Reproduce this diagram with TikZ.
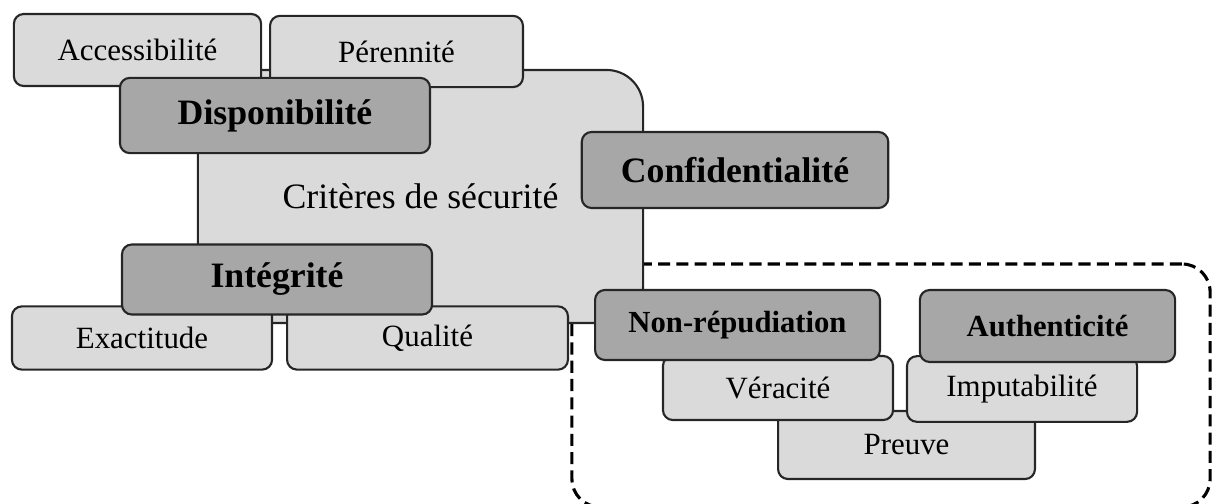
\documentclass[tikz,border=0pt]{standalone}
\usepackage{fontspec}
\setmainfont{Liberation Serif}
\usepackage{tikz}
\usetikzlibrary{shapes,positioning,calc}
\definecolor{clair}{HTML}{DADADA}
\definecolor{fonce}{HTML}{A7A7A7}

\begin{document}
\begin{tikzpicture}[x=0.0125cm, y=-0.0125cm,
    boite/.style={draw=black!85, line width=0.75pt, rounded corners=3.5pt, inner sep=0pt, align=center},
    secondaire/.style={boite, fill=clair, font=\fontsize{11}{13}\selectfont},
    principal/.style={boite, fill=fonce, font=\fontsize{12.7}{15}\selectfont\bfseries},
    petit/.style={principal, font=\fontsize{10.9}{13}\selectfont\bfseries}]
        \useasboundingbox (0,0) rectangle (1218,504);

        % Dashed group and central box
        \node[draw, dashed, line width=1.1pt, dash pattern=on 4.3pt off 2.2pt, rounded corners=10pt, minimum width=7.975cm, minimum height=3.0375cm] (groupe) at (891,385.5) {};
        \node[boite, fill=clair, rounded corners=13pt, minimum width=5.5625cm, minimum height=3.1625cm, font=\fontsize{12.7}{15}\selectfont] (criteres) at (420.5,196.5) {Crit\`eres de s\'ecurit\'e};

        % Secondary boxes
        \node[secondaire, minimum width=3.09cm, minimum height=0.9cm] (access) at (137.5,50) {Accessibilit\'e};
        \node[secondaire, minimum width=3.16cm, minimum height=0.89cm] (perenne) at (396.5,51.5) {P\'erennit\'e};
        \node[secondaire, minimum width=3.25cm, minimum height=0.79cm] (exact) at (142,338) {Exactitude};
        \node[secondaire, minimum width=3.51cm, minimum height=0.79cm] (qualite) at (427.5,338) {Qualit\'e};
        \node[secondaire, minimum width=3.21cm, minimum height=0.85cm] (preuve) at (906.5,445) {Preuve};
        \node[secondaire, minimum width=2.875cm, minimum height=0.8cm] (veracite) at (778,388) {V\'eracit\'e};
        \node[secondaire, minimum width=2.875cm, minimum height=0.82cm] (imput) at (1022,389) {Imputabilit\'e};

        % Main criteria
        \node[principal, minimum width=3.875cm, minimum height=0.94cm] (dispo) at (275,115.5) {Disponibilit\'e};
        \node[principal, minimum width=3.83cm, minimum height=0.95cm] (confid) at (735,170) {Confidentialit\'e};
        \node[principal, minimum width=3.875cm, minimum height=0.875cm] (integ) at (277,279.5) {Int\'egrit\'e};
        \node[petit, minimum width=3.56cm, minimum height=0.875cm] (nonrep) at (737.5,325) {Non-r\'epudiation};
        \node[petit, minimum width=3.19cm, minimum height=0.9cm] (authen) at (1047.5,326) {Authenticit\'e};
    \end{tikzpicture}
\end{document}
